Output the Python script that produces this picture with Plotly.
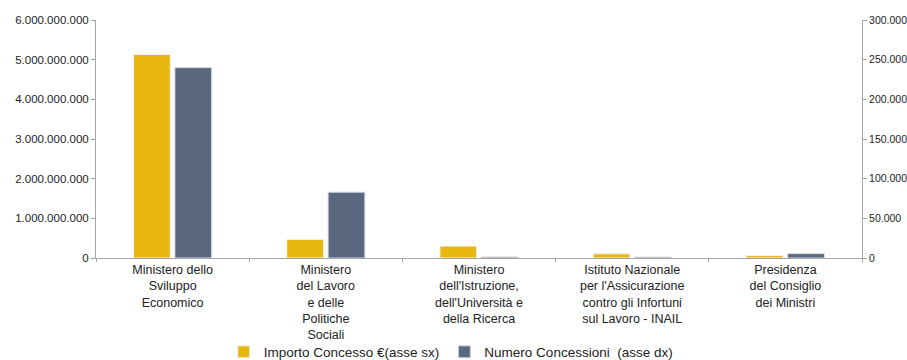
import plotly.graph_objects as go

categories = [
    "Ministero dello<br>Sviluppo<br>Economico",
    "Ministero<br>del Lavoro<br>e delle<br>Politiche<br>Sociali",
    "Ministero<br>dell'Istruzione,<br>dell'Università e<br>della Ricerca",
    "Istituto Nazionale<br>per l'Assicurazione<br>contro gli Infortuni<br>sul Lavoro - INAIL",
    "Presidenza<br>del Consiglio<br>dei Ministri",
]
importo = [5130000000, 470000000, 300000000, 105000000, 60000000]
numero = [240000, 83000, 1300, 1200, 5500]

left_ticks = [0, 1000000000, 2000000000, 3000000000, 4000000000, 5000000000, 6000000000]
right_ticks = [0, 50000, 100000, 150000, 200000, 250000, 300000]

YELLOW = "#E8B70F"
BLUE = "#5A697F"
AXIS = "#A6A6A6"
FONT = "Liberation Sans, Arial, Helvetica, sans-serif"

fig = go.Figure()
fig.add_trace(go.Bar(
    x=categories, y=importo, name="Importo Concesso €(asse sx)",
    marker=dict(color=YELLOW, line=dict(color="#F2F2F2", width=1)),
    offsetgroup="1", yaxis="y",
))
fig.add_trace(go.Bar(
    x=categories, y=numero, name="Numero Concessioni  (asse dx)",
    marker=dict(color=BLUE, line=dict(color="#D9DDE3", width=1)),
    offsetgroup="2", yaxis="y2",
))

fig.update_layout(
    width=907, height=360,
    margin=dict(l=96, r=45, t=20, b=102),
    paper_bgcolor="white", plot_bgcolor="white",
    font=dict(family=FONT, size=12, color="#222222"),
    separators=",.",
    barmode="group", bargap=0.46, bargroupgap=0.11,
    showlegend=True,
    legend=dict(orientation="h", xref="container", yref="container",
                x=0.497, xanchor="center", y=0.022, yanchor="middle",
                bgcolor="rgba(0,0,0,0)",
                font=dict(size=13.5, color="#222222"), itemwidth=30,
                tracegroupgap=0, traceorder="normal"),
    xaxis=dict(
        automargin=False,
        showline=True, linecolor=AXIS, linewidth=1,
        ticks="outside", ticklen=3, tickcolor=AXIS, tickson="boundaries",
        tickfont=dict(size=12.5, color="#222222"), showgrid=False,
    ),
    yaxis=dict(
        automargin=False,
        range=[0, 6000000000], tickvals=left_ticks, tickformat=",d",
        showline=True, linecolor=AXIS, linewidth=1,
        ticks="outside", ticklen=4, tickcolor=AXIS,
        showgrid=False, zeroline=False,
        tickfont=dict(size=11.5, color="#222222"),
    ),
    yaxis2=dict(
        automargin=False,
        range=[0, 300000], tickvals=right_ticks, tickformat=",d",
        overlaying="y", side="right",
        showline=True, linecolor=AXIS, linewidth=1,
        ticks="outside", ticklen=4, tickcolor=AXIS,
        showgrid=False, zeroline=False,
        tickfont=dict(size=10.5, color="#222222"),
    ),
)

fig.write_html(
    "out.html",
    config={"displayModeBar": False},
    post_script="document.body.style.margin='0';document.body.style.overflow='hidden';",
)
